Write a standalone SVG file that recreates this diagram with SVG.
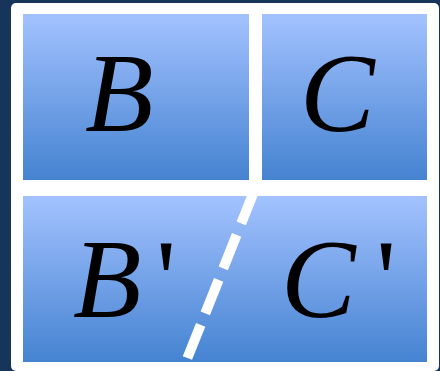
<svg xmlns="http://www.w3.org/2000/svg" width="440" height="371" viewBox="0 0 440 371">
  <defs>
    <linearGradient id="blue" x1="0" y1="0" x2="0" y2="1">
      <stop offset="0" stop-color="#a3c2ff"/>
      <stop offset="1" stop-color="#4583d1"/>
    </linearGradient>
    <style>
      .box { fill: url(#blue); }
      .lbl { font-family: "Liberation Serif", "Times New Roman", serif; font-style: italic; font-size: 112px; fill: #000; }
      .apos { font-style: normal; }
      .cut { stroke: #fff; stroke-width: 10; stroke-dasharray: 36 12.4; fill: none; stroke-linecap: butt; }
    </style>
  </defs>
  <rect x="0" y="0" width="440" height="371" fill="#17345a"/>
  <rect x="11" y="3" width="428" height="368" rx="5" fill="#fff"/>
  <g id="B">
    <rect class="box" x="23" y="14" width="226" height="166"/>
    <text class="lbl" x="85" y="131">B</text>
  </g>
  <g id="C">
    <rect class="box" x="262" y="14" width="165" height="166"/>
    <text class="lbl" x="300" y="131">C</text>
  </g>
  <g id="BC-prime">
    <rect class="box" x="23" y="196" width="404" height="166"/>
    <text class="lbl" x="73" y="317">B</text>
    <text class="lbl apos" x="156" y="317">'</text>
    <text class="lbl" x="281" y="317">C</text>
    <text class="lbl apos" x="376" y="317">'</text>
  </g>
  <g id="connectors">
    <line class="cut" x1="254.6" y1="190" x2="187.4" y2="358"/>
  </g>
</svg>
